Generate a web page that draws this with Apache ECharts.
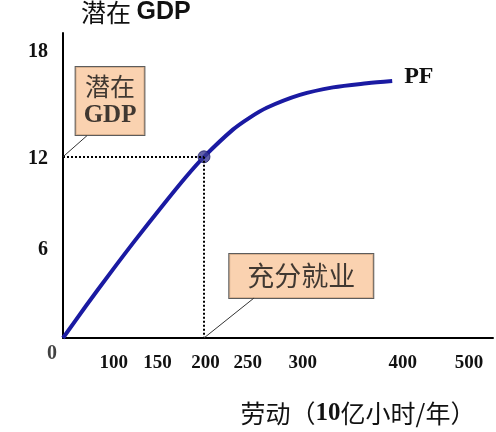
<!DOCTYPE html>
<html>
<head>
<meta charset="utf-8">
<script src="https://cdn.jsdelivr.net/npm/echarts@6/dist/echarts.min.js"></script>
<style>
  html, body { margin: 0; padding: 0; background: #fff; }
  #chart { width: 496px; height: 432px; }
</style>
</head>
<body>
<div id="chart"></div>
<script>
// 生产函数曲线 (劳动 -> 潜在GDP)
const labor = [0, 33, 67, 102, 140, 175, 200, 241, 265, 289, 336, 383, 431, 467]
const gdp = [0, 2.15, 4.3, 6.45, 8.7, 10.7, 12, 13.8, 14.6, 15.25, 16.1, 16.6, 16.87, 17.02]
// 充分就业点
const fullEmp = [200, 12]
// 刻度
const xTickLabels = ['100', '150', '200', '250', '300', '400', '500']
const xTickAt = [72, 134, 202, 262, 340, 482, 576]
const yTickLabels = ['0', '6', '12', '18']
const yTickAt = [0, 6, 12, 19.1]

const serif = "'Liberation Serif', 'Times New Roman', serif"
const cjk = "'Noto Sans CJK SC', sans-serif"

let myChart = echarts.init(document.getElementById('chart'))
let option = {
  animation: false,
  title: {
    text: '潜在 {g|GDP}',
    left: 76,
    top: -5,
    textStyle: {
      fontFamily: cjk,
      fontSize: 25,
      fontWeight: 'normal',
      color: '#111',
      rich: {
        g: { fontFamily: "'Liberation Sans', Arial, sans-serif", fontWeight: 'bold', fontSize: 25, color: '#111' }
      }
    }
  },
  grid: { left: 63, right: 3, top: 33, bottom: 94, outerBoundsMode: 'none' },
  xAxis: {
    type: 'value',
    min: 0,
    max: 610,
    name: '劳动（{n|10}亿小时/年）',
    nameLocation: 'middle',
    nameGap: 63,
    nameTextStyle: {
      fontFamily: cjk,
      fontSize: 25,
      color: '#111',
      padding: [0, 0, 0, 160],
      rich: { n: { fontFamily: serif, fontWeight: 'bold', fontSize: 25, color: '#111' } }
    },
    axisLine: { lineStyle: { color: '#000', width: 2 } },
    axisTick: { show: false },
    splitLine: { show: false },
    axisLabel: {
      customValues: xTickAt,
      margin: 16,
      fontFamily: serif,
      fontWeight: 'bold',
      fontSize: 19,
      color: '#111',
      formatter: function (v) {
        let i = xTickAt.indexOf(v)
        return i >= 0 ? xTickLabels[i] : ''
      }
    }
  },
  yAxis: {
    type: 'value',
    min: 0,
    max: 20.2,
    axisLine: { show: true, lineStyle: { color: '#000', width: 2 } },
    axisTick: { show: false },
    splitLine: { show: false },
    axisLabel: {
      customValues: yTickAt.slice(1),
      margin: 15,
      color: '#111',
      formatter: function (v) {
        let i = yTickAt.indexOf(v)
        return i >= 0 ? '{t|' + yTickLabels[i] + '}' : ''
      },
      rich: {
        t: { fontFamily: serif, fontWeight: 'bold', fontSize: 20, color: '#111', padding: [4, 0, 0, 0] }
      }
    }
  },
  series: [
    {
      name: 'PF',
      type: 'line',
      data: labor.map((x, i) => [x, gdp[i]]),
      smooth: 0.3,
      showSymbol: false,
      lineStyle: { color: '#1a1aa2', width: 4 },
      endLabel: {
        show: true,
        formatter: 'PF',
        distance: 12,
        offset: [0, -4],
        fontFamily: serif,
        fontWeight: 'bold',
        fontSize: 24,
        color: '#111'
      },
      z: 3
    },
    {
      // 充分就业点及虚线
      type: 'scatter',
      data: [fullEmp],
      symbolSize: 12,
      itemStyle: { color: '#3a3a94', borderColor: '#1c1c66', borderWidth: 1 },
      z: 4,
      markLine: {
        silent: true,
        symbol: 'none',
        label: { show: false },
        lineStyle: { color: '#000', type: [2, 2], width: 2 },
        data: [
          [{ coord: [0, fullEmp[1]] }, { coord: fullEmp }],
          [{ coord: fullEmp }, { coord: [fullEmp[0], 0] }]
        ]
      }
    },
    {
      // 原点 0
      type: 'scatter',
      data: [[0, 0]],
      symbolSize: 0,
      silent: true,
      label: {
        show: true,
        position: 'inside',
        offset: [-11, 16],
        formatter: yTickLabels[0],
        fontFamily: serif,
        fontWeight: 'bold',
        fontSize: 20,
        color: '#111'
      }
    },
    {
      // 标注框
      type: 'scatter',
      symbolSize: 0,
      silent: true,
      data: [
        { value: [66.7, 15.7], name: '潜在\nGDP' },
        { value: [338, 4.1], name: '充分就业' }
      ],
      label: {
        show: true,
        position: 'inside',
        formatter: function (p) {
          return p.dataIndex === 0 ? '{c|潜在}\n{g|GDP}' : '{b|充分就业}'
        },
        backgroundColor: '#f9c79c',
        borderColor: '#333',
        borderWidth: 1,
        padding: [5, 8, 5, 8],
        color: '#111',
        rich: {
          c: { fontFamily: cjk, fontSize: 25, lineHeight: 29, color: '#111' },
          g: { fontFamily: serif, fontWeight: 'bold', fontSize: 25, lineHeight: 29, color: '#111' },
          b: { fontFamily: cjk, fontSize: 27, lineHeight: 34, color: '#111', padding: [0, 10, 0, 10] }
        }
      },
      markLine: {
        silent: true,
        symbol: 'none',
        label: { show: false },
        lineStyle: { color: '#333', type: 'solid', width: 1 },
        data: [
          [{ coord: [34, 13.4] }, { coord: [0, 12] }],
          [{ coord: [271, 2.65] }, { coord: [fullEmp[0], 0] }]
        ]
      }
    }
  ]
}
myChart.setOption(option)
</script>
</body>
</html>
